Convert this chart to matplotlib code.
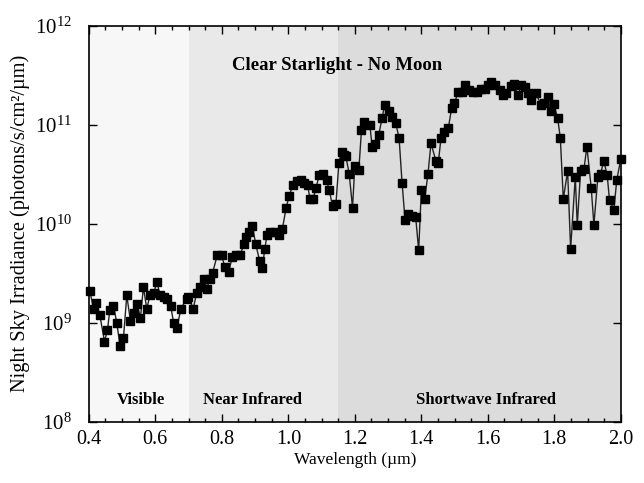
import matplotlib
matplotlib.use("Agg")
import matplotlib.pyplot as plt
from matplotlib.ticker import LogLocator, NullLocator, MultipleLocator

plt.rcParams["font.family"] = ["Liberation Serif", "DejaVu Serif"]
plt.rcParams["mathtext.fontset"] = "custom"
plt.rcParams["mathtext.rm"] = "Liberation Serif"

wavelength = [
    0.403, 0.414, 0.422, 0.433, 0.447, 0.456, 0.463, 0.474, 0.484, 0.494,
    0.504, 0.514, 0.525, 0.535, 0.545, 0.555, 0.564, 0.574, 0.584, 0.595,
    0.605, 0.614, 0.625, 0.635, 0.646, 0.655, 0.665, 0.677, 0.694, 0.699,
    0.714, 0.724, 0.734, 0.747, 0.754, 0.764, 0.772, 0.786, 0.799, 0.809,
    0.821, 0.831, 0.844, 0.856, 0.866, 0.874, 0.882, 0.892, 0.902, 0.914,
    0.922, 0.929, 0.936, 0.946, 0.959, 0.972, 0.982, 0.993, 1.002, 1.013,
    1.025, 1.037, 1.047, 1.058, 1.065, 1.075, 1.083, 1.093, 1.103, 1.115,
    1.123, 1.133, 1.143, 1.152, 1.160, 1.167, 1.173, 1.183, 1.193, 1.200,
    1.212, 1.220, 1.228, 1.245, 1.252, 1.262, 1.272, 1.282, 1.290, 1.302,
    1.313, 1.323, 1.333, 1.342, 1.351, 1.360, 1.371, 1.383, 1.392, 1.400,
    1.410, 1.420, 1.429, 1.444, 1.451, 1.459, 1.469, 1.481, 1.491, 1.499,
    1.511, 1.523, 1.531, 1.543, 1.556, 1.568, 1.579, 1.591, 1.601, 1.611,
    1.623, 1.636, 1.646, 1.656, 1.669, 1.679, 1.691, 1.701, 1.713, 1.721,
    1.731, 1.745, 1.760, 1.768, 1.780, 1.790, 1.798, 1.810, 1.818, 1.827,
    1.840, 1.849, 1.863, 1.869, 1.879, 1.889, 1.898, 1.911, 1.919, 1.931,
    1.939, 1.949, 1.959, 1.966, 1.979, 1.988, 2.000,
]

irradiance = [
    2.1e9, 1.4e9, 1.6e9, 1.2e9, 6.5e8, 8.5e8, 1.35e9, 1.5e9, 1.0e9, 5.8e8,
    7.0e8, 1.9e9, 1.05e9, 1.25e9, 1.55e9, 1.12e9, 2.3e9, 1.4e9, 1.9e9, 2.0e9,
    2.6e9, 1.9e9, 1.85e9, 1.75e9, 1.5e9, 1.0e9, 9.0e8, 1.4e9, 1.76e9, 1.83e9,
    1.4e9, 2.0e9, 2.3e9, 2.8e9, 2.2e9, 2.8e9, 3.2e9, 4.8e9, 4.8e9, 3.7e9,
    3.3e9, 4.6e9, 4.8e9, 4.9e9, 6.3e9, 7.4e9, 8.3e9, 9.5e9, 6.2e9, 4.2e9,
    3.6e9, 5.6e9, 7.7e9, 8.3e9, 8.3e9, 7.7e9, 8.9e9, 1.43e10, 1.9e10, 2.45e10,
    2.7e10, 2.75e10, 2.6e10, 2.45e10, 1.8e10, 1.8e10, 2.3e10, 3.1e10, 3.2e10, 2.75e10,
    2.2e10, 1.5e10, 1.57e10, 4.1e10, 5.3e10, 4.9e10, 4.8e10, 3.2e10, 1.46e10, 3.8e10,
    3.5e10, 8.9e10, 1.07e11, 1.0e11, 6.0e10, 6.4e10, 7.9e10, 1.18e11, 1.58e11, 1.38e11,
    1.2e11, 1.03e11, 7.4e10, 2.6e10, 1.1e10, 1.26e10, 1.2e10, 1.17e10, 5.4e9, 2.2e10,
    1.78e10, 3.2e10, 6.5e10, 4.3e10, 4.1e10, 7.3e10, 8.5e10, 9.2e10, 1.46e11, 1.64e11,
    2.13e11, 2.15e11, 2.5e11, 2.24e11, 2.15e11, 2.13e11, 2.3e11, 2.3e11, 2.5e11, 2.7e11,
    2.5e11, 2.24e11, 2.0e11, 2.07e11, 2.47e11, 2.56e11, 2.0e11, 2.5e11, 2.4e11, 2.07e11,
    1.78e11, 2.07e11, 1.58e11, 1.64e11, 1.9e11, 1.38e11, 1.62e11, 1.16e11, 7.4e10, 1.78e10,
    3.4e10, 5.6e9, 2.96e10, 9.8e9, 3.4e10, 3.55e10, 6.0e10, 2.3e10, 9.8e9, 2.96e10,
    3.2e10, 4.3e10, 3.1e10, 1.74e10, 1.38e10, 2.8e10, 4.5e10,
]

band_names = ["Visible", "Near Infrared", "Shortwave Infrared"]
band_edges = [(0.4, 0.7), (0.7, 1.15), (1.15, 2.0)]
band_label_x = [0.556, 0.893, 1.594]
band_colors = ["#f7f7f7", "#e9e9e9", "#dcdcdc"]

fig = plt.figure(figsize=(6.44, 4.83), dpi=100)
ax = fig.add_axes([0.138, 0.126, 0.826, 0.821])

for name, (lo, hi), lx, color in zip(band_names, band_edges, band_label_x, band_colors):
    ax.axvspan(lo, hi, color=color, lw=0, zorder=0)
    ax.text(lx, 1.67e8, name, ha="center", va="center",
            fontsize=12, fontweight="bold")

ax.plot(wavelength, irradiance, color="#222222", lw=1.0, marker="s",
        markersize=6, markerfacecolor="black", markeredgecolor="black",
        zorder=3, clip_on=False)

ax.set_yscale("log")
ax.set_xlim(0.4, 2.0)
ax.set_ylim(1e8, 1e12)
ax.yaxis.set_major_locator(LogLocator(base=10, numticks=10))
ax.yaxis.set_minor_locator(NullLocator())
ax.xaxis.set_major_locator(MultipleLocator(0.2))
ax.xaxis.set_minor_locator(MultipleLocator(0.05))
ax.xaxis.set_major_formatter(plt.FuncFormatter(lambda v, p: f"{v:.1f}"))

ax.tick_params(direction="in", which="both", top=True, right=True, width=1)
ax.tick_params(which="major", length=6)
ax.tick_params(which="minor", length=3)
ax.tick_params(axis="x", labelsize=14.5, pad=6)
ax.tick_params(axis="y", labelsize=15, pad=12)

ax.text(1.146, 4.0e11, "Clear Starlight - No Moon", ha="center", va="center",
        fontsize=13.5, fontweight="bold")

ax.set_xlabel("Wavelength (\u00b5m)", fontsize=12.5, labelpad=2)
ax.set_ylabel("Night Sky Irradiance (photons/s/cm\u00b2/\u00b5m)", fontsize=14.7,
              labelpad=4)

for s in ax.spines.values():
    s.set_linewidth(1.2)

fig.savefig("out.png", dpi=100)
plt.close(fig)
